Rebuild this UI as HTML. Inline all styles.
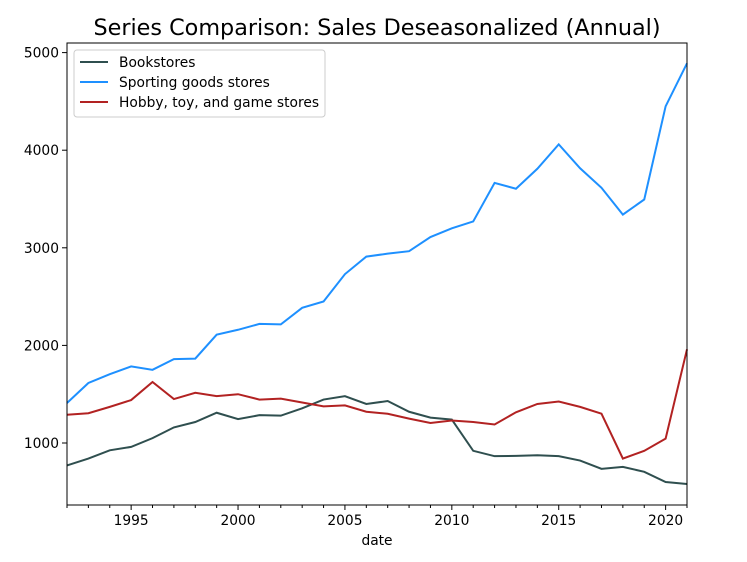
<!DOCTYPE html>
<html><head><meta charset="utf-8"><style>
body{margin:0;background:#fff;font-family:"Liberation Sans","DejaVu Sans",sans-serif}
svg text{font-family:"DejaVu Sans","Liberation Sans",sans-serif}
</style></head><body>
<svg id="c" width="747" height="557"></svg>
<script>
const years=[];for(let y=1992;y<=2021;y++)years.push(y);
const bookstores=[770,840,925,960,1050,1160,1215,1310,1245,1285,1280,1355,1445,1480,1400,1430,1320,1260,1240,920,865,868,875,865,820,735,755,705,600,580];
const sporting=[1410,1615,1705,1785,1750,1860,1865,2110,2160,2220,2215,2385,2450,2730,2910,2940,2965,3110,3200,3270,3665,3605,3810,4060,3815,3615,3340,3495,4450,4890];
const hobby=[1290,1305,1370,1440,1625,1450,1515,1480,1500,1445,1455,1415,1375,1385,1320,1300,1250,1205,1230,1215,1190,1315,1400,1425,1370,1300,840,920,1045,1960];
const xTicks=[1995,2000,2005,2010,2015,2020];
const yTicks=[1000,2000,3000,4000,5000];
const L=67,R=687,T=43,B=505;
const x=v=>L+(v-1992)/(2021-1992)*(R-L);
const y=v=>443-(v-1000)*0.0976;
const svg=document.getElementById('c');const NS='http://www.w3.org/2000/svg';
function mk(t,a,p){const e=document.createElementNS(NS,t);for(const k in a)e.setAttribute(k,a[k]);(p||svg).appendChild(e);return e;}
const title=mk('text',{x:377,y:35,'text-anchor':'middle','font-size':22.3});title.textContent='Series Comparison: Sales Deseasonalized (Annual)';


const series=[[bookstores,'#2f4f4f','Bookstores'],[sporting,'#1e90ff','Sporting goods stores'],[hobby,'#b22222','Hobby, toy, and game stores']];
series.forEach(([d,c,n])=>{const p=mk('polyline',{points:d.map((v,i)=>x(years[i])+','+y(v)).join(' '),fill:'none',stroke:c,'stroke-width':2});

});
const frame=mk('rect',{x:L,y:T,width:R-L,height:B-T,fill:'none',stroke:'#000','stroke-width':1});


years.forEach(yr=>{const major=xTicks.includes(yr);mk('line',{x1:x(yr),x2:x(yr),y1:B,y2:B+(major?5:3),stroke:'#000'});
if(major){const t=mk('text',{x:x(yr),y:B+20,'text-anchor':'middle','font-size':13.8});t.textContent=yr;

}});
yTicks.forEach(v=>{mk('line',{x1:L-5,x2:L,y1:y(v),y2:y(v),stroke:'#000'});const t=mk('text',{x:L-8,y:y(v)+5,'text-anchor':'end','font-size':13.8});t.textContent=v;

});
const xl=mk('text',{x:377,y:545,'text-anchor':'middle','font-size':13.8});xl.textContent='date';


const lg=mk('g',{});


mk('rect',{x:74,y:50,width:251,height:67,rx:3,fill:'#fff',stroke:'#ccc'},lg);
series.forEach(([d,c,n],i)=>{const yy=62+i*20;mk('line',{x1:80,x2:108,y1:yy,y2:yy,stroke:c,'stroke-width':2},lg);
const t=mk('text',{x:119,y:yy+5,'font-size':13.8},lg);t.textContent=n;

});
</script></body></html>
